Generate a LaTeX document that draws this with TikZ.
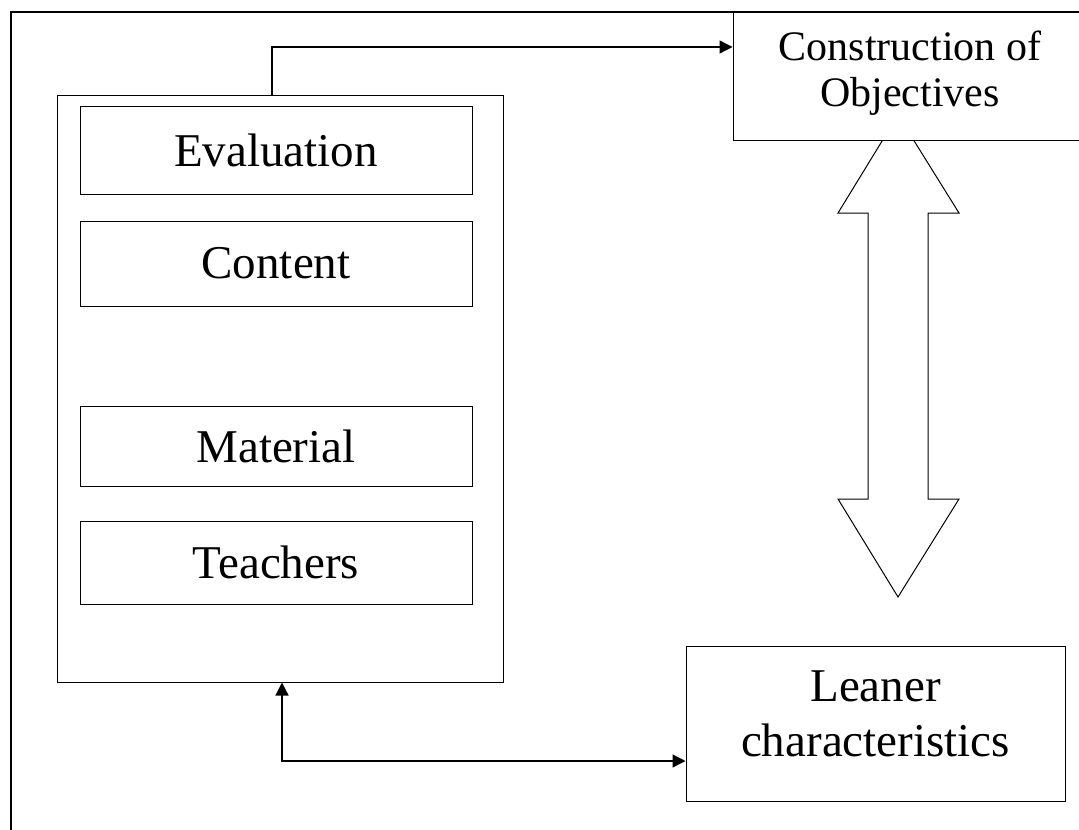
\documentclass[tikz,border=0pt]{standalone}
\usepackage{fontspec}
\setmainfont{Liberation Serif}
\usetikzlibrary{arrows.meta}
\begin{document}
\begin{tikzpicture}[x=1pt,y=-1pt,
  box/.style={draw, line width=1pt, fill=white, inner sep=0pt, align=center},
  bigfont/.style={font=\fontsize{47}{55}\selectfont},
  objfont/.style={font=\fontsize{42}{46}\selectfont},
  conn/.style={line width=1.3pt},
  tip/.style={-{Triangle[length=13pt,width=13pt]}},
  fat/.style={draw, line width=1pt, fill=white}]
\useasboundingbox (0,0) rectangle (1079,830);
\clip (0,0) rectangle (1079,830);
\fill[white] (0,0) rectangle (1079,830);
% outer frame (cut by the page)
\draw[line width=1.1pt] (11,850) -- (11,12) -- (1100,12);
% main container
\node[box, minimum width=446pt, minimum height=587pt] (main) at (280,388.5) {};
\node[box, bigfont, minimum width=392pt, minimum height=88pt] (eval) at (276,150) {Evaluation};
\node[box, bigfont, minimum width=392pt, minimum height=85pt] (cont) at (276,263.5) {Content};
\node[box, bigfont, minimum width=392pt, minimum height=80pt] (mat) at (276,446) {Material};
\node[box, bigfont, minimum width=392pt, minimum height=83pt] (teach) at (276,562.5) {Teachers};
% double block arrow
\draw[fat] (898,115) -- (959,213) -- (928,213) -- (928,499) -- (959,499) -- (898,597)
  -- (838,499) -- (868,499) -- (868,213) -- (838,213) -- cycle;
% construction of objectives
\node[box, objfont, minimum width=354pt, minimum height=128pt] (cons) at (910,76) {};
\node[objfont, align=center, inner sep=0pt] (constext) at ([yshift=3pt]cons.center) {Construction of\\Objectives};
% leaner characteristics
\node[box, minimum width=379pt, minimum height=155pt] (lean) at (875.5,723.5) {};
\node[bigfont, align=center, inner sep=0pt] (leantext) at ([yshift=10pt]lean.center) {Leaner\\characteristics};
% connectors
\coordinate (tj) at (272,47);
\draw[conn, tip] (main.north -| tj) |- (tj -| cons.west);
\coordinate (bj) at (282,761);
\draw[conn, {Triangle[length=13pt,width=13pt]}-{Triangle[length=13pt,width=13pt]}] (main.south -| bj) |- (bj -| lean.west);
\end{tikzpicture}
\end{document}
